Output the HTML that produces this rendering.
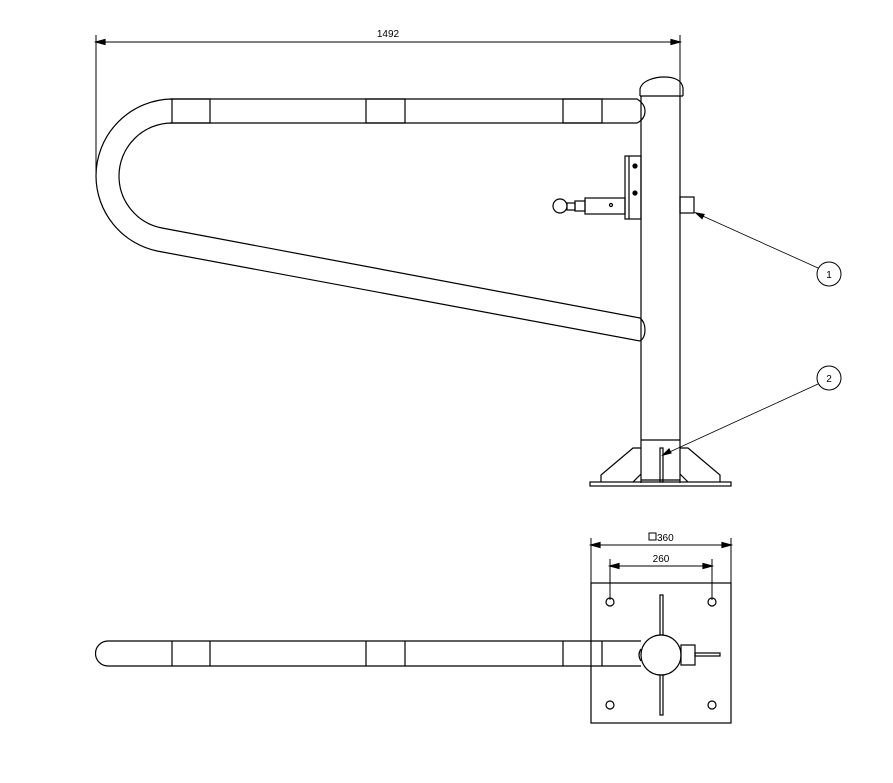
<!DOCTYPE html>
<html><head><style>html,body{margin:0;padding:0;background:#fff;}svg{display:block}</style></head>
<body>
<svg width="893" height="783" viewBox="0 0 893 783" xmlns="http://www.w3.org/2000/svg" fill="none" stroke="#000" stroke-width="1.2" font-family="Liberation Sans, sans-serif">
<!-- top dimension -->
<line x1="96" y1="35" x2="96" y2="176" stroke-width="1"/>
<line x1="680" y1="35" x2="680" y2="96" stroke-width="1"/>
<line x1="96" y1="42" x2="680" y2="42" stroke-width="1"/>
<path d="M96,42 l9,-2.5 v5 z M680,42 l-9,-2.5 v5 z" fill="#000"/>
<text x="388" y="37" font-size="10" fill="#000" stroke="none" text-anchor="middle">1492</text>
<!-- post -->
<line x1="641" y1="96" x2="641" y2="483"/>
<line x1="680" y1="96" x2="680" y2="483"/>
<line x1="640" y1="96" x2="683" y2="96"/>
<path d="M640,96 v-7 C642,80 656,77 664,77 C674,77 682,80 683,88 v8"/>
<!-- top rail -->
<path d="M170,99 H637 Q645,104 645,111 Q645,119 637,123 H170"/>
<rect x="172" y="99" width="38" height="24"/>
<rect x="366" y="99" width="39" height="24"/>
<rect x="563" y="99" width="39" height="24"/>
<!-- U bend -->
<path d="M172,99 A77,77 0 0 0 96,176 A77,77 0 0 0 157,251 L640,341"/>
<path d="M172,123 A53,53 0 0 0 119,176 A53,53 0 0 0 162,228 L640,318"/>
<path d="M640,318 Q645,322 645,330 Q645,338 640,341"/>
<!-- bracket -->
<rect x="625" y="156" width="16" height="63"/>
<line x1="629" y1="156" x2="629" y2="219"/>
<circle cx="635" cy="166" r="2" fill="#000"/>
<circle cx="635" cy="193" r="2" fill="#000"/>
<rect x="585" y="198" width="40" height="16"/>
<circle cx="611" cy="205" r="1.5"/>
<rect x="575" y="201" width="10" height="10"/>
<rect x="567" y="203" width="8" height="7"/>
<circle cx="560" cy="206" r="7"/>
<rect x="680" y="197" width="14" height="16"/>
<!-- leader 1 -->
<line x1="696" y1="213" x2="818" y2="268" stroke-width="0.8"/>
<path d="M696,213 l8,1.5 -2,4 z" fill="#000"/>
<circle cx="829" cy="274" r="12" stroke-width="1"/>
<text x="829" y="278" font-size="10" fill="#000" stroke="none" text-anchor="middle">1</text>
<!-- leader 2 -->
<circle cx="829" cy="378" r="12" stroke-width="1"/>
<text x="829" y="382" font-size="10" fill="#000" stroke="none" text-anchor="middle">2</text>
<line x1="818" y1="384" x2="663" y2="455" stroke-width="0.8"/>
<path d="M663,455 l6,-6 2,4 z" fill="#000"/>
<!-- base -->
<line x1="641" y1="440" x2="680" y2="440"/>
<rect x="660" y="448" width="3" height="34"/>
<rect x="590" y="482" width="141" height="4"/>
<path d="M601,482 V475 L633,448 H641"/>
<path d="M720,482 V475 L688,448 H680"/>
<line x1="633" y1="482" x2="641" y2="474"/>
<line x1="688" y1="482" x2="680" y2="474"/>
<line x1="641" y1="480" x2="680" y2="480"/>
<!-- bottom view dims -->
<line x1="591" y1="538" x2="591" y2="583" stroke-width="1"/>
<line x1="731" y1="538" x2="731" y2="583" stroke-width="1"/>
<line x1="591" y1="545" x2="731" y2="545" stroke-width="1"/>
<path d="M591,545 l9,-2.5 v5 z M731,545 l-9,-2.5 v5 z" fill="#000"/>
<rect x="649" y="533" width="7" height="7" stroke-width="1"/>
<text x="657" y="541" font-size="10" fill="#000" stroke="none">360</text>
<line x1="610" y1="559" x2="610" y2="600" stroke-width="1"/>
<line x1="712" y1="559" x2="712" y2="600" stroke-width="1"/>
<line x1="610" y1="566" x2="712" y2="566" stroke-width="1"/>
<path d="M610,566 l9,-2.5 v5 z M712,566 l-9,-2.5 v5 z" fill="#000"/>
<text x="661" y="562" font-size="10" fill="#000" stroke="none" text-anchor="middle">260</text>
<!-- plate -->
<rect x="591" y="583" width="140" height="140"/>
<circle cx="610" cy="602" r="4"/><circle cx="712" cy="602" r="4"/>
<circle cx="610" cy="705" r="4"/><circle cx="712" cy="705" r="4"/>
<rect x="660" y="595" width="3" height="40"/>
<rect x="660" y="675" width="3" height="40"/>
<!-- bottom rail -->
<path d="M641,641 H108 A12.5,12.5 0 0 0 108,666 H641"/>
<line x1="172" y1="641" x2="172" y2="666"/><line x1="210" y1="641" x2="210" y2="666"/>
<line x1="366" y1="641" x2="366" y2="666"/><line x1="405" y1="641" x2="405" y2="666"/>
<line x1="563" y1="641" x2="563" y2="666"/><line x1="602" y1="641" x2="602" y2="666"/>
<circle cx="661" cy="655" r="20" fill="#fff"/>
<path d="M641,649 Q637,655 641,661"/>
<rect x="681" y="645" width="14" height="20"/>
<rect x="695" y="653" width="25" height="3"/>
</svg>
</body></html>
